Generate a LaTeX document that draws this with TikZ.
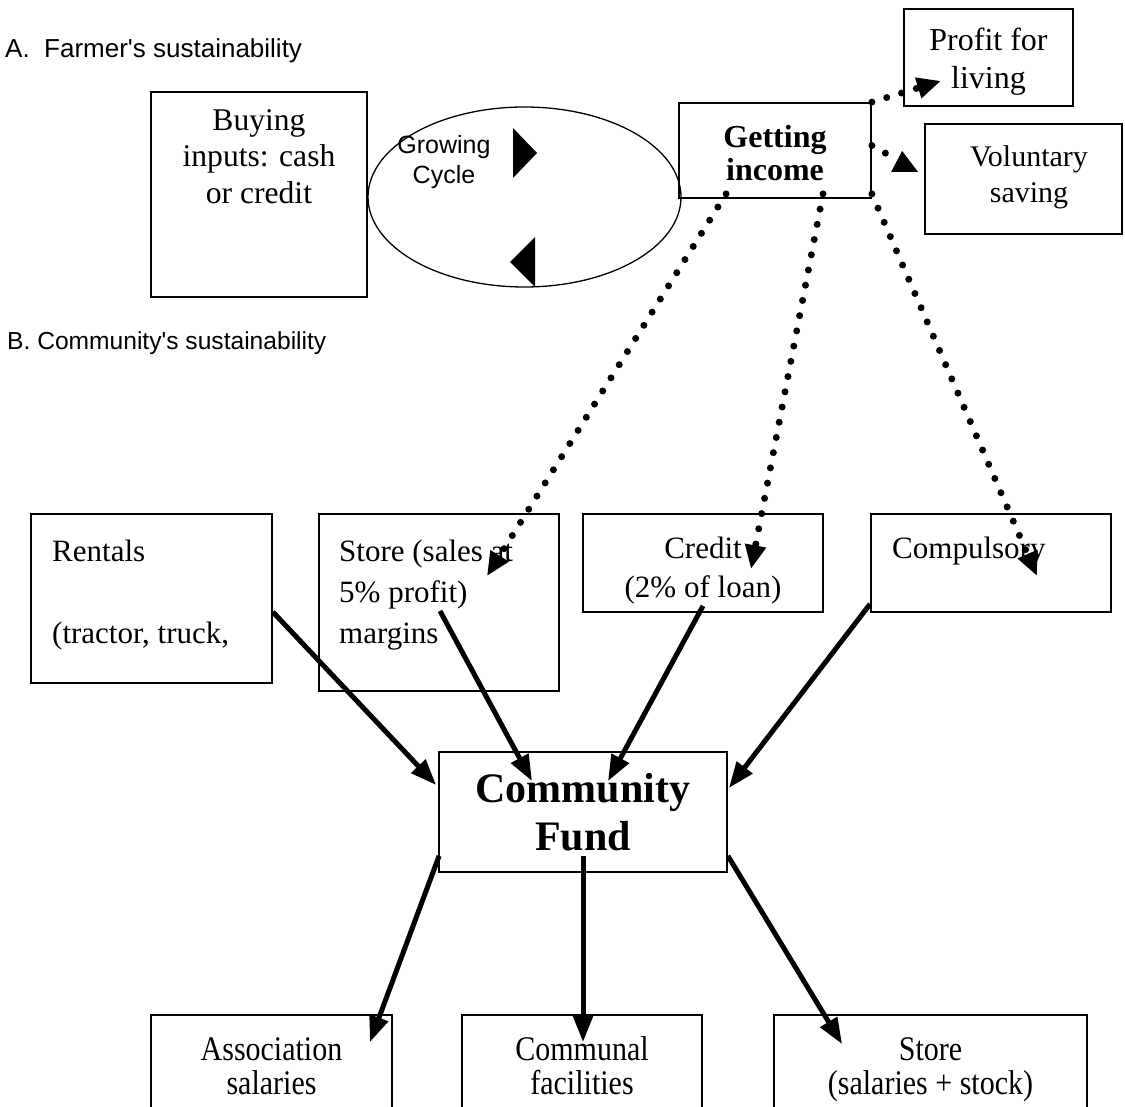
\documentclass[tikz,border=0pt]{standalone}
\usepackage{fontspec}
\usepackage{graphicx}
\setmainfont{Liberation Serif}
\newfontfamily\sansf{Liberation Sans}
\usetikzlibrary{arrows.meta,calc,shapes.geometric}
\tikzset{
  box/.style={draw, rectangle, line width=1.8pt, inner sep=0pt},
  lbl/.style={inner sep=0pt, align=center},
  lbll/.style={inner sep=0pt, align=left},
  tall/.style={anchor=base, inner sep=0pt, font=\fontsize{30}{30}\selectfont},
  solidarr/.style={line width=5pt, -{Triangle[length=26pt,width=19pt]}},
  dotarr/.style={line width=7pt, line cap=round, dash pattern=on 0pt off 15.5pt,
                 -{Triangle[length=24pt,width=20pt]}},
  dotline/.style={line width=7pt, line cap=round, dash pattern=on 0pt off 15.5pt},
}
\newcommand\stretchtxt[1]{\scalebox{1}[1.15]{#1}}
\begin{document}
\begin{tikzpicture}[x=1pt,y=-1pt]
\fill[white] (0,0) rectangle (1125,1107);
\clip (0,0) rectangle (1125,1107);

% section labels
\node[anchor=base west, inner sep=0pt, font=\sansf\fontsize{26}{30}\selectfont] (secA) at (5,58) {A.\ \ Farmer's sustainability};
\node[anchor=base west, inner sep=0pt, font=\sansf\fontsize{24.6}{30}\selectfont] (secB) at (7,350) {B. Community's sustainability};

% part A
\node[box, minimum width=216pt, minimum height=205pt] (buy) at (259,194.5) {};
\node[lbl, anchor=north, font=\fontsize{31.6}{36.5}\selectfont] (tbuy) at (259,104.5) {\strut Buying\\\strut inputs: cash\\\strut or credit};

\node[draw, ellipse, line width=1.3pt, minimum width=313pt, minimum height=180pt, inner sep=0pt] (cyc) at (524.5,197) {};
\node[lbl, anchor=north, font=\sansf\fontsize{25}{30}\selectfont] (tcyc) at (444,132) {\strut Growing\\\strut Cycle};
\fill (513,128) -- (537,153) -- (513,178) -- cycle;
\fill (535,237) -- (510,262) -- (535,287) -- cycle;

\node[box, minimum width=192pt, minimum height=95pt] (inc) at (775,150.5) {};
\node[lbl, anchor=north, font=\bfseries\fontsize{32}{33}\selectfont] (tinc) at (775,123.9) {\strut Getting\\\strut income};

\node[box, minimum width=169pt, minimum height=97pt] (prof) at (988.5,57.5) {};
\node[lbl, anchor=north, font=\fontsize{32}{38}\selectfont] (tprof) at (988.5,23.4) {\strut Profit for\\\strut living};

\node[box, minimum width=197pt, minimum height=110pt] (vol) at (1023.5,179) {};
\node[lbl, anchor=north, font=\fontsize{30}{36}\selectfont] (tvol) at (1029,140.8) {\strut Voluntary\\\strut saving};

% part B boxes
\node[box, minimum width=241pt, minimum height=169pt] (rent) at (151.5,598.5) {};
\node[lbll, anchor=north west, font=\fontsize{31}{41}\selectfont] (trent) at (52,532.3) {\strut Rentals\\\strut\\\strut (tractor, truck,};

\node[box, minimum width=240pt, minimum height=177pt] (store) at (439,602.5) {};
\node[lbll, anchor=north west, font=\fontsize{31}{41}\selectfont] (tstore) at (339,532.3) {\strut Store (sales at\\\strut 5\% profit)\\\strut margins};

\node[box, minimum width=240pt, minimum height=98pt] (cred) at (703,563) {};
\node[lbl, anchor=north, font=\fontsize{31}{39}\selectfont] (tcred) at (703,530.7) {\strut Credit\\\strut (2\% of loan)};

\node[box, minimum width=240pt, minimum height=98pt] (comp) at (991,563) {};
\node[lbll, anchor=north west, font=\fontsize{31}{39}\selectfont] (tcomp) at (892,530.7) {\strut Compulsory};

\node[box, minimum width=288pt, minimum height=120pt] (fund) at (583,812) {};
\node[lbl, anchor=north, font=\bfseries\fontsize{42}{48}\selectfont] (tfund) at (583,768.4) {\strut Community\\\strut Fund};

\node[box, minimum width=241pt, minimum height=140pt] (assoc) at (271.5,1085) {};
\node[tall] (ta1) at (271.5,1060) {\stretchtxt{Association}};
\node[tall] (ta2) at (271.5,1094) {\stretchtxt{salaries}};

\node[box, minimum width=240pt, minimum height=140pt] (comm) at (582,1085) {};
\node[tall] (tc1) at (582,1060) {\stretchtxt{Communal}};
\node[tall] (tc2) at (582,1094) {\stretchtxt{facilities}};

\node[box, minimum width=313pt, minimum height=140pt] (store2) at (930.5,1085) {};
\node[tall] (ts1) at (930.5,1060) {\stretchtxt{Store}};
\node[tall] (ts2) at (930.5,1094) {\stretchtxt{(salaries + stock)}};

% dotted connectors from Getting income
\draw[dotarr] (inc.north east) -- ($(prof.south west)+(38,-26)$);
\draw[dotline] ($(inc.east)+(0,-5)$) -- ($(inc.east)+(15,3.5)$);
\fill ($(vol.west)+(-22,-28)$) -- ($(vol.west)+(-33,-7)$) -- ($(vol.west)+(-6,-7)$) -- cycle;
\draw[dotarr] ($(inc.south west)+(48,-5)$) -- ($(store.north east)+(-73,63)$);
\draw[dotarr] ($(inc.south)+(48,-5)$) -- ($(cred.north)+(48,56)$);
\draw[dotarr] ($(inc.south east)+(0,-5)$) -- ($(comp.north)+(46,63)$);

% solid connectors into the fund
\draw[solidarr] ($(rent.east)+(0,13.5)$) -- ($(fund.west)+(-2,-27)$);
\draw[solidarr] ($(store.center)+(1,8.5)$) -- ($(fund.north)+(-51,30)$);
\draw[solidarr] ($(cred.south)+(0,-7)$) -- ($(fund.north)+(25,30)$);
\draw[solidarr] ($(comp.west)+(0,41)$) -- ($(fund.east)+(1,-24)$);

% solid connectors out of the fund
\draw[solidarr] ($(fund.south west)+(1,-17)$) -- ($(assoc.north east)+(-23,28)$);
\draw[solidarr] ($(fund.south)+(0,-17)$) -- ($(comm.north)+(1,28)$);
\draw[solidarr] ($(fund.south east)+(0,-17)$) -- ($(store2.north west)+(69,30)$);
\end{tikzpicture}
\end{document}
